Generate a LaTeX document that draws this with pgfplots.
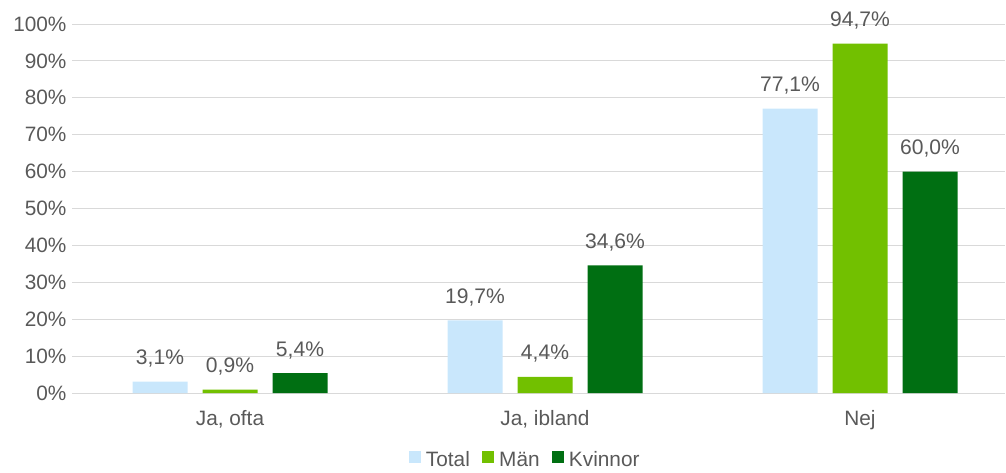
\documentclass[border=0pt]{standalone}
\usepackage{pgfplots}
\pgfplotsset{compat=1.18}
\usepackage{fontspec}
\setmainfont{Liberation Sans}
\definecolor{cTotal}{HTML}{C9E7FC}
\definecolor{cMan}{HTML}{72C000}
\definecolor{cKv}{HTML}{006F12}
\definecolor{txt}{HTML}{595959}
\definecolor{gridc}{HTML}{D9D9D9}
\begin{document}
\begin{tikzpicture}
\path[use as bounding box] (-54.375pt,-59.25pt) rectangle (700.125pt,294.75pt);
\begin{axis}[
  at={(0,0)}, anchor=south west,
  scale only axis, width=699.3pt, height=276.75pt,
  xmin=-0.5, xmax=2.46, ymin=0, ymax=100,
  ybar=11.25pt, bar width=41.25pt,
  axis line style={draw=none},
  major tick length=0pt,
  ytick={0,10,...,100},
  ymajorgrids, grid style={draw=gridc, line width=0.75pt},
  xtick={0,1,2},
  xticklabels={{Ja, ofta},{Ja, ibland},{Nej}},
  /pgf/number format/assume math mode=true,
  tick label style={font=\fontsize{15.6}{18}\selectfont, text=txt},
  yticklabel={\pgfmathprintnumber{\tick}\%},
  yticklabel style={xshift=-1pt},
  xticklabel style={anchor=base, yshift=-24pt},
  nodes near coords={\pgfmathprintnumber[fixed,fixed zerofill,precision=1,use comma]{\pgfplotspointmeta}\%},
  every node near coord/.append style={font=\fontsize{15.8}{18}\selectfont, text=txt, anchor=base, inner sep=0pt, yshift=12.75pt},
  legend style={at={(axis description cs:0.485,-0.182)}, anchor=center, draw=none, fill=none,
    legend columns=-1, font=\fontsize{15.6}{18}\selectfont, text=txt,
    nodes={text height=11pt, text depth=1pt, inner sep=1pt},
    /tikz/every odd column/.append style={column sep=3pt},
    /tikz/every even column/.append style={column sep=8pt}},
  legend image code/.code={\fill[#1] (0pt,-2.5pt) rectangle (9pt,6.5pt);},
]
\addplot[fill=cTotal, draw=none] coordinates {(0,3.1) (1,19.7) (2,77.1)};
\addplot[fill=cMan, draw=none] coordinates {(0,0.9) (1,4.4) (2,94.7)};
\addplot[fill=cKv, draw=none] coordinates {(0,5.4) (1,34.6) (2,60.0)};
\legend{Total, Män, Kvinnor}
\end{axis}
\end{tikzpicture}
\end{document}
